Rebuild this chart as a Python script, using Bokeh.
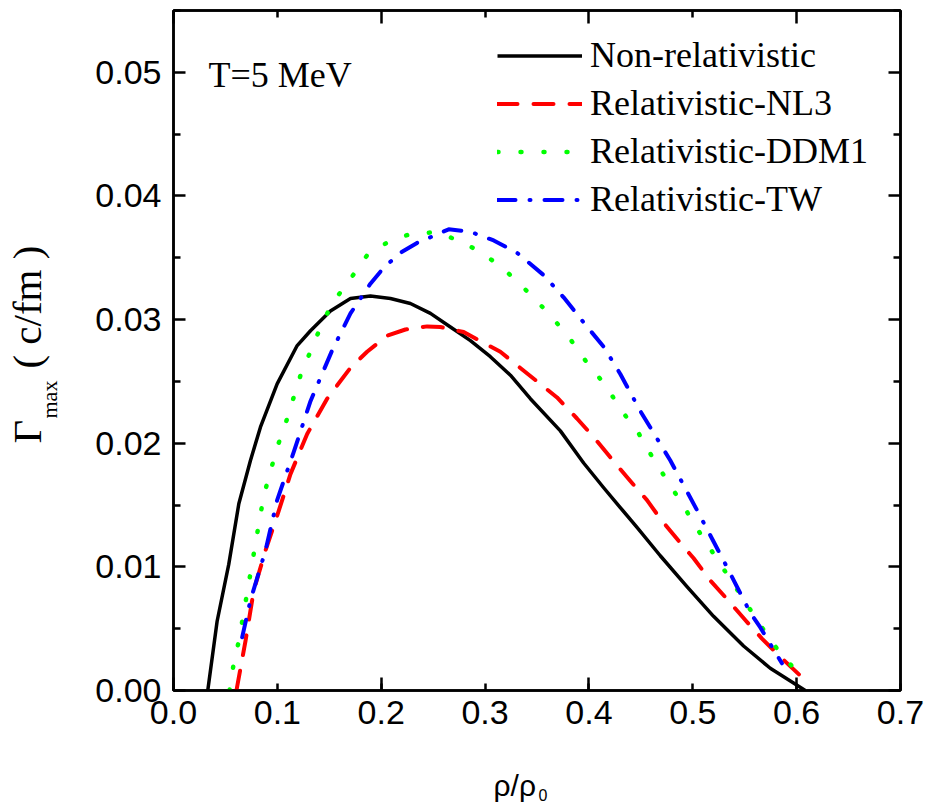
import math
from bokeh.plotting import figure
from bokeh.models import (LinearAxis, FixedTicker, Label, Legend, LegendItem,
                          Range1d, NumeralTickFormatter, CustomJSTickFormatter)
from bokeh.embed import file_html
from bokeh.resources import INLINE

# ---------------- data ----------------
nonrel_x = [0.033, 0.042, 0.0532, 0.0629, 0.0741, 0.0837, 0.0998, 0.1191, 0.1319,
            0.1511, 0.1704, 0.1896, 0.2089, 0.2281, 0.2474, 0.2666, 0.2859,
            0.3051, 0.3244, 0.3436, 0.3725, 0.3949, 0.4142, 0.4302, 0.4463, 0.4687,
            0.4944, 0.5200, 0.5489, 0.5746, 0.5970, 0.6083]
nonrel_y = [0.0, 0.0056, 0.0102, 0.0151, 0.0186, 0.0213, 0.0248, 0.0279, 0.0291,
            0.0307, 0.0317, 0.0319, 0.0317, 0.0313, 0.0305, 0.0294, 0.0283,
            0.0270, 0.0255, 0.0236, 0.0210, 0.0184, 0.0164, 0.0148, 0.0132, 0.0109,
            0.0084, 0.0060, 0.0036, 0.0018, 0.0006, 0.0]

nl3_x = [0.0606, 0.0693, 0.0773, 0.0885, 0.1014, 0.1126, 0.1287, 0.1479, 0.1704,
         0.1864, 0.2057, 0.2233, 0.2442, 0.2570, 0.2794, 0.2923, 0.3147, 0.3308,
         0.3516, 0.3693, 0.3885, 0.4045, 0.4222, 0.4382, 0.4559, 0.4687, 0.4864,
         0.5008, 0.5168, 0.5329, 0.5505, 0.5666, 0.5858, 0.6035]
nl3_y = [0.0, 0.0040, 0.0081, 0.0113, 0.01455, 0.0175, 0.02075, 0.0236, 0.0261,
         0.0274, 0.0287, 0.0292, 0.02945, 0.0294, 0.0290, 0.0284, 0.0274, 0.0263,
         0.0249, 0.0237, 0.0220, 0.0205, 0.0187, 0.0171, 0.0154, 0.0139, 0.0121,
         0.0107, 0.0089, 0.0074, 0.0057, 0.0042, 0.0026, 0.0012]

ddm1_x = [0.0539, 0.058, 0.0629, 0.0709, 0.0789, 0.0869, 0.0998, 0.1078, 0.1222,
          0.1415, 0.1527, 0.1704, 0.1864, 0.2089, 0.2313, 0.2531, 0.2746, 0.2971,
          0.3179, 0.3404, 0.3612, 0.3805, 0.3982, 0.4158, 0.4318, 0.4479, 0.4623,
          0.4767, 0.4912, 0.5056, 0.5361, 0.5666, 0.5826, 0.6035]
ddm1_y = [0.0, 0.0022, 0.0040, 0.0079, 0.01186, 0.01576, 0.01967, 0.02156, 0.02547,
          0.02937, 0.0313, 0.0333, 0.0352, 0.0364, 0.0370, 0.03705, 0.0364, 0.0354,
          0.0341, 0.0323, 0.0305, 0.0286, 0.0265, 0.0247, 0.0226, 0.0208, 0.0187,
          0.0168, 0.0149, 0.0129, 0.0090, 0.0051, 0.0032, 0.0012]

tw_x = [0.0661, 0.0741, 0.0885, 0.0998, 0.1158, 0.1319, 0.1527, 0.1704, 0.1896,
        0.2024, 0.2185, 0.2345, 0.2650, 0.2859, 0.3083, 0.3308, 0.3564, 0.3756,
        0.3965, 0.4142, 0.4302, 0.4495, 0.4784, 0.5040, 0.5297, 0.5553, 0.5650,
        0.5858]
tw_y = [0.0043, 0.0073, 0.0113, 0.0154, 0.0193, 0.0234, 0.0275, 0.0305, 0.0329,
        0.0342, 0.0354, 0.0362, 0.0373, 0.0371, 0.0364, 0.0354, 0.0336, 0.0318,
        0.0296, 0.0278, 0.0256, 0.0226, 0.0186, 0.0146, 0.0105, 0.0063, 0.0051,
        0.0022]

series_labels = ["Non-relativistic", "Relativistic-NL3", "Relativistic-DDM1", "Relativistic-TW"]

x_ticks = [0.0, 0.1, 0.2, 0.3, 0.4, 0.5, 0.6, 0.7]
x_long_ticks = [0.0, 0.2, 0.4, 0.6]
x_short_ticks = [0.1, 0.3, 0.5, 0.7]
y_ticks = [0.0, 0.01, 0.02, 0.03, 0.04, 0.05]
y_minor_ticks = [0.005, 0.015, 0.025, 0.035, 0.045, 0.055]

annotation_text = "T=5 MeV"
y_label_main = "\u0393" + "\u00a0" * 5 + "( c/fm )"
y_label_sub = "max"
x_label_main = "\u03c1/\u03c1"
x_label_sub = "0"

# ---------------- figure ----------------
FL, FR, FT, FB = 173, 900, 10, 690  # frame edges in page pixels
X0, X1, Y0, Y1 = 0.0, 0.7, 0.0, 0.055

p = figure(width=927, height=803, output_backend="svg", toolbar_location=None,
           x_range=Range1d(X0, X1), y_range=Range1d(Y0, Y1),
           min_border_left=FL, min_border_right=927 - FR,
           min_border_top=FT, min_border_bottom=803 - FB,
           background_fill_color="white", border_fill_color="white")
p.xgrid.visible = False
p.ygrid.visible = False
p.outline_line_color = "black"
p.outline_line_width = 2.5

TICK_FONT = "Liberation Sans"
SERIF = "Liberation Serif"

xa = p.xaxis[0]
xa.ticker = FixedTicker(ticks=x_ticks, minor_ticks=x_long_ticks)
xa.formatter = NumeralTickFormatter(format="0.0")
ya = p.yaxis[0]
ya.ticker = FixedTicker(ticks=y_ticks, minor_ticks=y_minor_ticks)
ya.formatter = NumeralTickFormatter(format="0.00")

for ax in (xa, ya):
    ax.axis_line_width = 2.5
    ax.axis_line_color = "black"
    ax.major_tick_out = 0
    ax.minor_tick_out = 0
    ax.major_tick_line_width = 2.5
    ax.minor_tick_line_width = 2.5
    ax.major_tick_line_color = "black"
    ax.minor_tick_line_color = "black"
    ax.major_label_text_font = TICK_FONT
    ax.major_label_text_font_size = "34px"
    ax.major_label_text_color = "black"

xa.major_tick_in = 7
xa.minor_tick_in = 13
xa.major_label_standoff = 10
ya.major_tick_in = 12
ya.minor_tick_in = 7
ya.major_label_standoff = 12

blank = CustomJSTickFormatter(code="return ''")
top = LinearAxis(ticker=FixedTicker(ticks=x_long_ticks, minor_ticks=x_short_ticks),
                 formatter=blank)
right = LinearAxis(ticker=FixedTicker(ticks=y_ticks, minor_ticks=y_minor_ticks),
                   formatter=blank)
top.major_tick_in, top.minor_tick_in = 13, 7
right.major_tick_in, right.minor_tick_in = 12, 7
for ax in (top, right):
    ax.axis_line_width = 2.5
    ax.major_tick_out = 0
    ax.minor_tick_out = 0
    ax.major_tick_line_width = 2.5
    ax.minor_tick_line_width = 2.5
    ax.major_label_standoff = 0
p.add_layout(top, "above")
p.add_layout(right, "right")

# ---------------- curves ----------------
r1 = p.line(nonrel_x, nonrel_y, line_color="#000000", line_width=3.5, line_join="round")
r2 = p.line(nl3_x, nl3_y, line_color="#FF0000", line_width=4, line_dash="20 16",
            line_cap="round", line_join="round")
r3 = p.line(ddm1_x, ddm1_y, line_color="#00FF00", line_width=4.5, line_dash="1 22",
            line_cap="round", line_join="round")
r4 = p.line(tw_x, tw_y, line_color="#0000FF", line_width=4, line_dash="18 14 1 14",
            line_cap="round", line_join="round")

legend = Legend(items=[LegendItem(label=series_labels[0], renderers=[r1]),
                       LegendItem(label=series_labels[1], renderers=[r2]),
                       LegendItem(label=series_labels[2], renderers=[r3]),
                       LegendItem(label=series_labels[3], renderers=[r4])],
                location=(324, 470), border_line_alpha=0, background_fill_alpha=0,
                glyph_width=85, glyph_height=41, label_height=41, spacing=6,
                padding=0, margin=0, label_standoff=8,
                label_text_font=SERIF, label_text_font_size="36px",
                label_text_color="black")
p.add_layout(legend)

# ---------------- texts ----------------
# page-pixel -> data coordinate helpers (texts outside the frame live in side panels)
def dx(px):
    return X0 + (px - FL) * (X1 - X0) / (FR - FL)

def dy(py):
    return Y0 + (FB - py) * (Y1 - Y0) / (FB - FT)

p.add_layout(Label(x=dx(208), y=dy(74), text=annotation_text, text_font=SERIF,
                   text_font_size="36px", text_align="left",
                   text_baseline="alphabetic", text_color="black"))

p.add_layout(Label(x=dx(26), y=dy(443), text=y_label_main, text_font=SERIF,
                   text_font_size="41px", angle=math.pi / 2, text_align="left",
                   text_baseline="alphabetic", text_color="black"), "left")
p.add_layout(Label(x=dx(49), y=dy(418), text=y_label_sub, text_font=SERIF,
                   text_font_size="22px", angle=math.pi / 2, text_align="left",
                   text_baseline="alphabetic", text_color="black"), "left")

p.add_layout(Label(x=dx(493), y=dy(785), text=x_label_main, text_font=TICK_FONT,
                   text_font_size="30px", text_align="left",
                   text_baseline="alphabetic", text_color="black"), "below")
p.add_layout(Label(x=dx(538), y=dy(794), text=x_label_sub, text_font=TICK_FONT,
                   text_font_size="16px", text_align="left",
                   text_baseline="alphabetic", text_color="black"), "below")

open("out.html", "w").write(file_html(p, INLINE))
